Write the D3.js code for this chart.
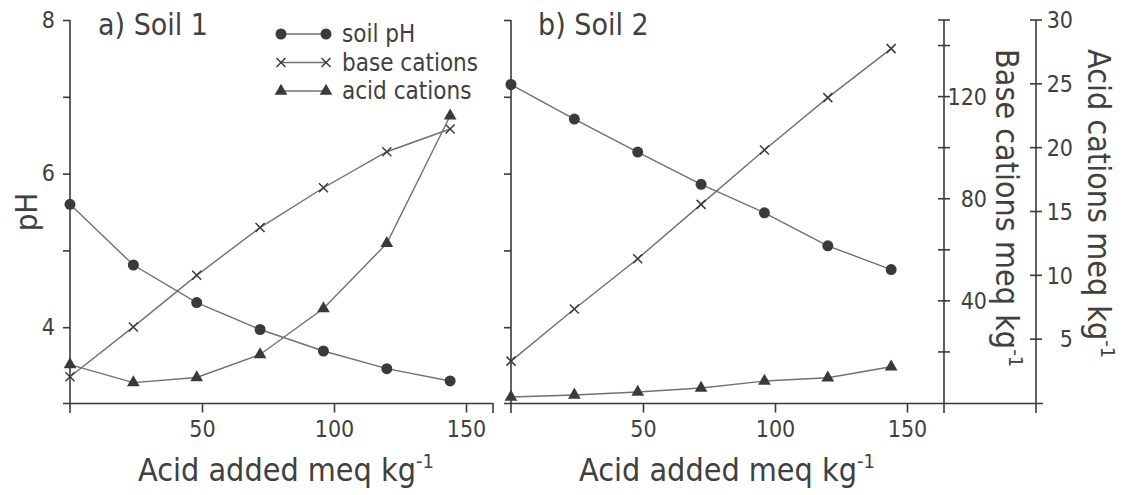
<!DOCTYPE html>
<html>
<head>
<meta charset="utf-8">
<script src="https://cdn.jsdelivr.net/npm/d3@7"></script>
<style>
body { margin: 0; background: #fff; }
svg text { fill: #404040; font-family: "DejaVu Sans Condensed", "DejaVu Sans", sans-serif; }
svg .num { font-family: "Liberation Sans Narrow", "DejaVu Sans Condensed", sans-serif; font-size: 23px; }
</style>
</head>
<body>
<svg id="chart" width="1123" height="495"></svg>
<script>
// values, acid added in meq kg-1
const acidAdded = [0, 24, 48, 72, 96, 120, 144];

const soil1_pH = [5.60, 4.81, 4.32, 3.97, 3.69, 3.46, 3.30];
const soil1_base = [10.3, 29.8, 50.0, 68.7, 84.3, 98.4, 107.3];
const soil1_acid = [3.0, 1.6, 2.0, 3.8, 7.4, 12.5, 22.5];

const soil2_pH = [7.16, 6.71, 6.28, 5.86, 5.49, 5.06, 4.75];
const soil2_base = [16.4, 36.8, 56.5, 77.8, 99.1, 119.6, 138.8];
const soil2_acid = [0.47, 0.63, 0.86, 1.17, 1.72, 1.98, 2.84];

const phTicks = [4, 5, 6, 7, 8];
const phLabels = [4, 6, 8];
const xTicks = [50, 100, 150];
const baseTicks = [20, 40, 60, 80, 100, 120, 140, 150];
const baseLabels = [40, 80, 120];
const acidTicks = [5, 10, 15, 20, 25, 30];

const legendItems = [
    {key: "pH", label: "soil pH"},
    {key: "base", label: "base cations"},
    {key: "acid", label: "acid cations"}
];

const ink = "#3a3a3a";
const lineCol = "#707070";

const svg = d3.select("#chart");

// shared vertical scales
const y_ph = d3.scaleLinear().domain([3, 8]).range([404, 20]);
const y_base = d3.scaleLinear().domain([0, 150]).range([403, 20]);
const y_acid = d3.scaleLinear().domain([0, 30]).range([403, 20]);

function draw_marker(g, type, cx, cy){
    if(type === "pH"){
        g.append("circle").attr("cx", cx).attr("cy", cy).attr("r", 5.5).attr("fill", ink);
    }else if(type === "base"){
        let s = 4.5;
        g.append("path")
            .attr("d", `M${cx-s},${cy-s}L${cx+s},${cy+s}M${cx-s},${cy+s}L${cx+s},${cy-s}`)
            .attr("stroke", ink).attr("stroke-width", 1.5).attr("fill", "none");
    }else{
        g.append("path")
            .attr("d", d3.symbol(d3.symbolTriangle, 70)())
            .attr("transform", `translate(${cx},${cy})`)
            .attr("fill", ink);
    }
}

function plot_panel(x0, xEnd, title, ph, base, acid, showPhLabels){
    let x = d3.scaleLinear().domain([0, 160]).range([x0, x0 + 422.4]);
    let g = svg.append("g");

    // x axis
    g.append("line").attr("x1", x0 - 7).attr("x2", xEnd).attr("y1", 403.5).attr("y2", 403.5)
        .attr("stroke", ink).attr("stroke-width", 1.6);
    let xa = g.append("g").attr("transform", "translate(0,403.5)")
        .call(d3.axisBottom(x).tickValues(xTicks).tickSize(9).tickSizeOuter(0).tickPadding(8));
    xa.select(".domain").remove();
    xa.selectAll("line").attr("stroke", ink).attr("stroke-width", 1.6);
    xa.selectAll("text").attr("class", "num").attr("font-size", null).attr("font-family", null);

    // pH axis
    g.append("line").attr("x1", x0).attr("x2", x0).attr("y1", 20).attr("y2", 413)
        .attr("stroke", ink).attr("stroke-width", 1.6);
    let ya = g.append("g").attr("transform", `translate(${x0},0)`)
        .call(d3.axisLeft(y_ph).tickValues(phTicks).tickSize(7).tickPadding(8)
            .tickFormat(d => (showPhLabels && phLabels.includes(d)) ? d : ""));
    ya.select(".domain").remove();
    ya.selectAll("line").attr("stroke", ink).attr("stroke-width", 1.6);
    ya.selectAll("text").attr("class", "num").attr("font-size", null).attr("font-family", null);

    g.append("text").attr("x", title.x).attr("y", 35).attr("font-size", 30).text(title.text);

    let series = [
        {key: "pH", values: ph, y: y_ph},
        {key: "base", values: base, y: y_base},
        {key: "acid", values: acid, y: y_acid}
    ];

    series.forEach(s => {
        let line = d3.line().x((d, i) => x(acidAdded[i])).y(d => s.y(d));
        g.append("path").datum(s.values).attr("d", line)
            .attr("fill", "none").attr("stroke", lineCol).attr("stroke-width", 1.4);
        s.values.forEach((d, i) => draw_marker(g, s.key, x(acidAdded[i]), s.y(d)));
    });

    // x axis title
    let t = g.append("text").attr("x", (x0 + 216)).attr("y", 481).attr("font-size", 32)
        .attr("text-anchor", "middle");
    t.append("tspan").text("Acid added meq kg");
    t.append("tspan").attr("dy", -13).attr("font-size", 20).text("-1");

    return x;
}

plot_panel(70, 493, {x: 98, text: "a) Soil 1"}, soil1_pH, soil1_base, soil1_acid, true);
plot_panel(511, 1043, {x: 538, text: "b) Soil 2"}, soil2_pH, soil2_base, soil2_acid, false);

// end tick of left x axis
svg.append("line").attr("x1", 493).attr("x2", 493).attr("y1", 403).attr("y2", 413)
    .attr("stroke", ink).attr("stroke-width", 1.6);

// pH axis title
svg.append("text").attr("transform", "translate(37,212) rotate(-90)")
    .attr("text-anchor", "middle").attr("font-size", 31).text("pH");

// right hand axes for the cation scales
function cation_axis(xPos, scale, ticks, labels, labelX, titleX, titleText){
    let g = svg.append("g");
    g.append("line").attr("x1", xPos).attr("x2", xPos).attr("y1", 20).attr("y2", 413)
        .attr("stroke", ink).attr("stroke-width", 1.6);
    g.selectAll(".tk").data(ticks).enter().append("line")
        .attr("x1", xPos - 6).attr("x2", xPos + 6)
        .attr("y1", d => scale(d)).attr("y2", d => scale(d))
        .attr("stroke", ink).attr("stroke-width", 1.6);
    g.selectAll(".lb").data(labels).enter().append("text")
        .attr("class", "num").attr("x", labelX).attr("y", d => scale(d))
        .attr("dy", "0.36em").attr("text-anchor", "end").text(d => d);
    let t = g.append("text").attr("transform", `translate(${titleX},49) rotate(90)`)
        .attr("font-size", 32);
    t.append("tspan").text(titleText);
    t.append("tspan").attr("dy", -13).attr("font-size", 20).text("-1");
}

cation_axis(944, y_base, baseTicks, baseLabels, 987, 996, "Base cations meq kg");
cation_axis(1036, y_acid, acidTicks, acidTicks, 1073, 1088, "Acid cations meq kg");

// legend, soil 1 panel
let lg = svg.append("g");
legendItems.forEach((d, i) => {
    let ly = 34 + i * 28.5;
    lg.append("line").attr("x1", 281).attr("x2", 326).attr("y1", ly).attr("y2", ly)
        .attr("stroke", lineCol).attr("stroke-width", 1.4);
    draw_marker(lg, d.key, 281, ly);
    draw_marker(lg, d.key, 326, ly);
    lg.append("text").attr("x", 342).attr("y", ly + 8).attr("font-size", 24).text(d.label);
});
</script>
</body>
</html>
